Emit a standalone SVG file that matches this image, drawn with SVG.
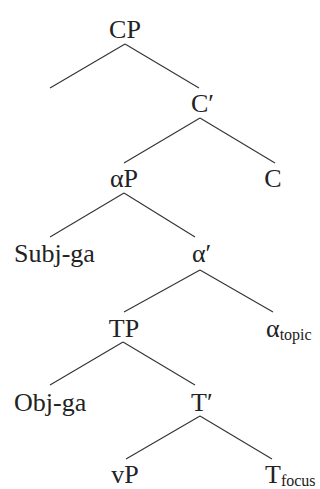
<svg xmlns="http://www.w3.org/2000/svg" width="320" height="489" viewBox="0 0 320 489">
<style>
text{font-family:"Liberation Serif","Times New Roman",serif;font-size:26px;fill:#222}
.m{text-anchor:middle}
.sub{font-size:16px}
#edges line{stroke:#333;stroke-width:1.1}
</style>
<rect width="320" height="489" fill="#fff"/>
<g id="edges">
<line x1="125" y1="44" x2="50" y2="88"/>
<line x1="125" y1="44" x2="199" y2="88"/>
<line x1="200" y1="118" x2="124" y2="163"/>
<line x1="200" y1="118" x2="275" y2="163"/>
<line x1="124" y1="193" x2="50" y2="237"/>
<line x1="124" y1="193" x2="195" y2="237"/>
<line x1="200" y1="270" x2="124" y2="312"/>
<line x1="200" y1="270" x2="273" y2="312"/>
<line x1="123" y1="342" x2="50" y2="385"/>
<line x1="123" y1="342" x2="195" y2="385"/>
<line x1="200" y1="416" x2="126" y2="459"/>
<line x1="200" y1="416" x2="272" y2="459"/>
</g>
<g id="CP"><text class="m" x="125" y="38">CP</text></g>
<g id="Cbar"><text x="191" y="112">C′</text></g>
<g id="aP"><text class="m" x="124" y="187">αP</text></g>
<g id="C"><text class="m" x="273" y="187">C</text></g>
<g id="Subj"><text x="14" y="262">Subj-ga</text></g>
<g id="abar"><text x="192" y="262">α′</text></g>
<g id="TP"><text class="m" x="124" y="337">TP</text></g>
<g id="atopic"><text x="266" y="337">α<tspan class="sub" dy="3">topic</tspan></text></g>
<g id="Obj"><text x="14" y="411">Obj-ga</text></g>
<g id="Tbar"><text x="191" y="411">T′</text></g>
<g id="vP"><text class="m" x="125" y="483">vP</text></g>
<g id="Tfocus"><text x="265" y="483">T<tspan class="sub" dy="3">focus</tspan></text></g>
</svg>
